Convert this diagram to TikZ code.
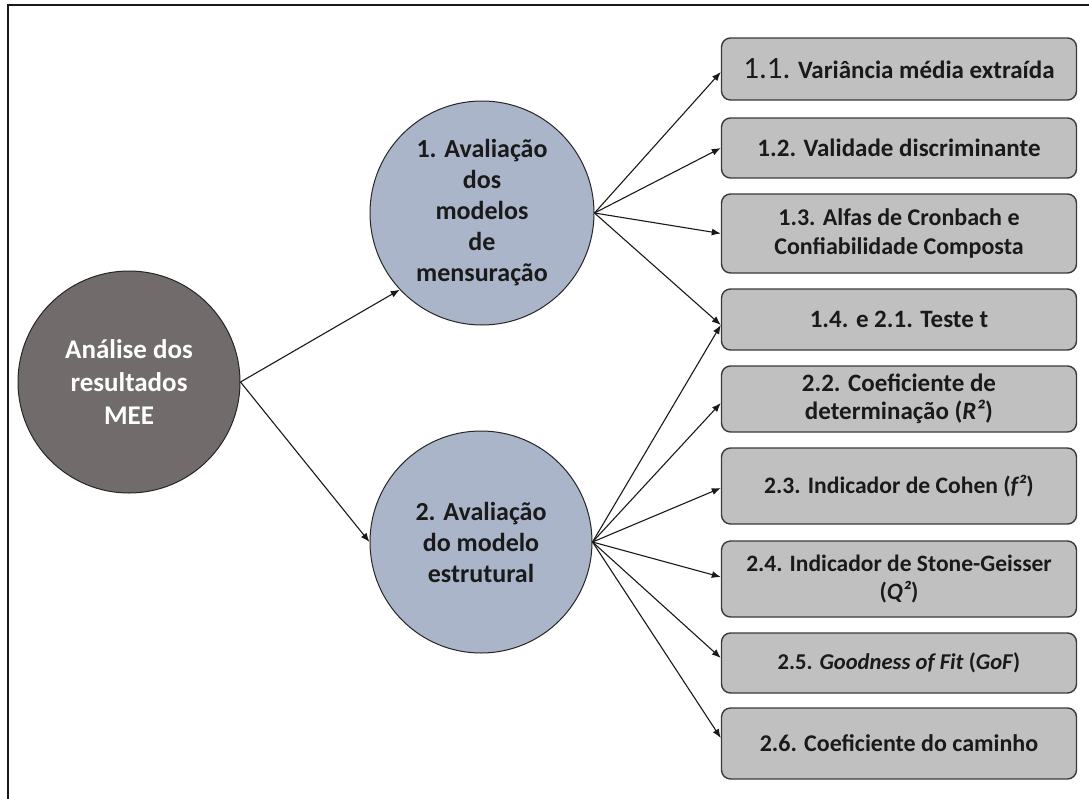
\documentclass[tikz,border=0pt]{standalone}
\usepackage{fontspec}
\setmainfont{Carlito}
\usetikzlibrary{arrows.meta}
\definecolor{darkdisc}{HTML}{716C6B}
\definecolor{bluedisc}{HTML}{AAB5C9}
\definecolor{boxfill}{HTML}{C0C0C0}
\definecolor{boxline}{HTML}{3A3A3A}
\definecolor{ink}{HTML}{1A1A1A}
\begin{document}
\begin{tikzpicture}[x=1pt,y=-1pt,
  disc/.style={circle, draw=black!85, line width=1pt, inner sep=0pt,
    align=center, text=ink, fill=bluedisc,
    font=\fontsize{26}{31}\selectfont\bfseries},
  rootdisc/.style={disc, fill=darkdisc, text=white, minimum size=222pt,
    font=\fontsize{27}{33}\selectfont\bfseries},
  item/.style={rectangle, rounded corners=9pt, draw=boxline, line width=1.4pt,
    fill=boxfill, text=ink, align=center, minimum width=355pt, inner sep=2pt,
    font=\fontsize{25}{28.5}\selectfont\bfseries},
  itemsize/.style={font=\fontsize{#1}{28.5}\selectfont\bfseries},
  conn/.style={draw=black!90, line width=1.1pt, -{Latex[length=9pt,width=7pt]}},
  frameline/.style={draw=black!90, line width=1.6pt}
]
\useasboundingbox (0,0) rectangle (1089,798);

% outer frame (right and bottom edges lie off the page)
\draw[frameline] (8,800) -- (8,5) -- (1092,5);

% central discs
\node[rootdisc] (ana) at (129,382) {Análise dos\\resultados\\MEE};
\node[disc, minimum size=224pt] (aval1) at (482,213)
  {1. Avaliação\\dos\\modelos\\de\\mensuração};
\node[disc, minimum size=222pt] (aval2) at (481,542)
  {2. Avaliação\\do modelo\\estrutural};

% criteria boxes
\node[item, minimum height=62pt] (b11) at (899,69)
  {{\fontsize{31}{28}\selectfont\mdseries 1.1.} Variância média extraída};
\node[item, minimum height=60pt] (b12) at (899,148) {1.2. Validade discriminante};
\node[item, itemsize=24, minimum height=79pt] (b13) at (899,233.5)
  {1.3. Alfas de Cronbach e\\Confiabilidade Composta};
\node[item, minimum height=61pt] (b14) at (899,319.5) {1.4. e 2.1. Teste t};
\node[item, minimum height=66pt] (b22) at (899,399)
  {2.2. Coeficiente de\\determinação (\textit{R²})};
\node[item, itemsize=23.6, minimum height=76pt] (b23) at (899,486)
  {2.3. Indicador de Cohen (\textit{f²})};
\node[item, itemsize=23.5, minimum height=76pt] (b24) at (899,579)
  {2.4. Indicador de Stone-Geisser\\(\textit{Q²})};
\node[item, itemsize=22.6, minimum height=60pt] (b25) at (899,663)
  {2.5. \textit{Goodness of Fit} (\textit{GoF})};
\node[item, itemsize=24, minimum height=71pt] (b26) at (899,743.5)
  {2.6. Coeficiente do caminho};

% connectors from the root
\draw[conn] (ana.east) -- (aval1.223);
\draw[conn] (ana.east) -- (aval2.west);

% measurement model branches
\draw[conn] (aval1.east) -- ([yshift=-3pt]b11.west);
\draw[conn] (aval1.east) -- (b12.west);
\draw[conn] (aval1.east) -- (b13.west);
\draw[conn] (aval1.east) -- ([yshift=-5.5pt]b14.west);

% structural model branches
\draw[conn] (aval2.east) -- ([yshift=-5.5pt]b14.west);
\draw[conn] (aval2.east) -- ([yshift=-4pt]b22.west);
\draw[conn] (aval2.east) -- ([yshift=-2pt]b23.west);
\draw[conn] (aval2.east) -- ([yshift=2pt]b24.west);
\draw[conn] (aval2.east) -- ([yshift=5pt]b25.west);
\draw[conn] (aval2.east) -- ([yshift=5.5pt]b26.west);
\end{tikzpicture}
\end{document}
